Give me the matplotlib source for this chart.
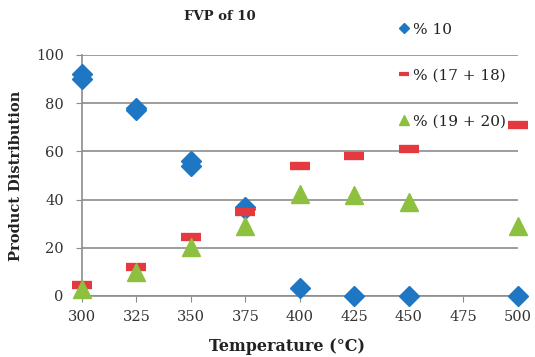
import matplotlib.pyplot as plt
from matplotlib.lines import Line2D

# temperatures (°C) and product distribution (%)
temp_c10 = [300, 300, 325, 325, 350, 350, 375, 375, 400, 425, 450, 500]
pct_c10 = [92, 90, 78, 77, 56, 54, 37, 36, 3.5, 0, 0, 0]

temp_c17_18 = [300, 325, 350, 375, 400, 425, 450, 500]
pct_c17_18 = [4.5, 12, 24.5, 35, 54, 58, 61, 71]

temp_c19_20 = [300, 325, 350, 375, 400, 425, 450, 500]
pct_c19_20 = [3, 10, 20.5, 29, 42.5, 42, 39, 29]

x_ticks = [300, 325, 350, 375, 400, 425, 450, 475, 500]
y_ticks = [0, 20, 40, 60, 80, 100]

blue, red, green = '#1F77C4', '#E4393F', '#8DC03F'

plt.rcParams['font.family'] = ['DejaVu Serif']

fig = plt.figure(figsize=(5.35, 3.57), dpi=100)
ax = fig.add_axes([0.153, 0.171, 0.815, 0.675])

ax.plot(temp_c10, pct_c10, linestyle='none', marker='D', markersize=10.5,
        color=blue, zorder=3, clip_on=False)
# red marks are short flat bars
ax.plot(temp_c17_18, pct_c17_18, linestyle='none', marker='_', markersize=14,
        markeredgewidth=6, color=red, zorder=3, clip_on=False)
ax.plot(temp_c19_20, pct_c19_20, linestyle='none', marker='^', markersize=13,
        color=green, zorder=4, clip_on=False)

ax.set_xlim(300, 500)
ax.set_ylim(0, 100)
ax.set_xticks(x_ticks)
ax.set_yticks(y_ticks)
ax.grid(axis='y', color='#8C8C8C', linewidth=1.2)
ax.set_axisbelow(True)
for side in ['top', 'right']:
    ax.spines[side].set_visible(False)
for side in ['left', 'bottom']:
    ax.spines[side].set_color('#8C8C8C')
    ax.spines[side].set_linewidth(1.2)
ax.tick_params(axis='both', colors='#8C8C8C', labelcolor='#333333', labelsize=10.5, length=4)
ax.tick_params(axis='x', pad=6)
ax.tick_params(axis='y', pad=9)

ax.set_xlabel('Temperature (°C)', fontsize=11.5, fontweight='bold', color='#222222')
ax.xaxis.set_label_coords(0.47, -0.175)
ax.set_ylabel('Product Distribution', fontsize=10.5, fontweight='bold', color='#222222',
              labelpad=9)
fig.text(0.41, 0.955, 'FVP of 10', fontsize=9.5, fontweight='bold', color='#222222',
         ha='center', va='center')

handles = [
    Line2D([], [], linestyle='none', marker='D', markersize=5, color=blue),
    Line2D([], [], linestyle='none', marker='_', markersize=7, markeredgewidth=3, color=red),
    Line2D([], [], linestyle='none', marker='^', markersize=7, color=green),
]
fig.legend(handles, ['% 10', '% (17 + 18)', '% (19 + 20)'], loc='upper left',
           bbox_to_anchor=(0.72, 0.975), frameon=False, fontsize=11, labelspacing=2.1,
           handlelength=0.6, handletextpad=0.3, labelcolor='#222222')

fig.savefig('out.png', dpi=100)
